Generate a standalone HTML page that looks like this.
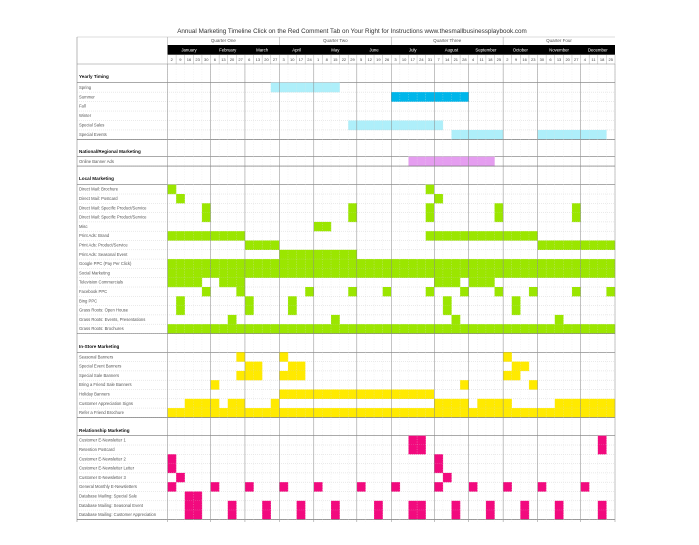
<!DOCTYPE html>
<html><head><meta charset="utf-8"><style>
body{margin:0;background:#fff;}
svg{display:block;font-family:"Liberation Sans",sans-serif;}
</style></head><body>
<svg id="c" width="699" height="545"></svg>
<script>
const months=["January","February","March","April","May","June","July","August","September","October","November","December"];
const monthWeeks=[5,4,4,4,5,4,5,4,4,4,5,4];
const quarters=["Quarter One","Quarter Two","Quarter Three","Quarter Four"];
const dayLabels=[2,9,16,23,30,6,13,20,27,6,13,20,27,3,10,17,24,1,8,15,22,29,5,12,19,26,3,10,17,24,31,7,14,21,28,4,11,18,25,2,9,16,23,30,6,13,20,27,4,11,18,25];
function R(a,b){const r=[];for(let i=a;i<=b;i++)r.push(i);return r;}
const yearlyNames=["Spring","Summer","Fall","Winter","Special Sales","Special Events"];
const yearlyWeeks=[R(12,19),R(26,34),[],[],R(21,31),R(33,38).concat(R(43,50))];
const yearlyColors=["#aeeffa","#00b6ea","#aeeffa","#aeeffa","#aeeffa","#aeeffa"];
const nationalNames=["Online Banner Ads"];
const nationalWeeks=[R(28,37)];
const localNames=["Direct Mail: Brochure","Direct Mail: Postcard","Direct Mail: Specific Product/Service","Direct Mail: Specific Product/Service","Misc","Print Ads: Brand","Print Ads: Product/Service","Print Ads: Seasonal Event","Google PPC (Pay Per Click)","Social Marketing","Television Commercials","Facebook PPC","Bing PPC","Grass Roots: Open House","Grass Roots: Events, Presentations","Grass Roots: Brochures"];
const localWeeks=[[0,30],[1,31],[4,21,30,38,47],[4,21,30,38,47],[17,18],R(0,8).concat(R(30,42)),R(9,12).concat(R(43,51)),R(13,21),R(0,51),R(0,51),R(0,3).concat(R(6,8),R(31,33),R(35,37)),[4,8,16,21,25,30,34,38,42,47,51],[1,9,14,32,40],[1,9,14,32,40],[7,19,33,45],R(0,51)];
const storeNames=["Seasonal Banners","Special Event Banners","Special Sale Banners","Bring a Friend Sale Banners","Holiday Banners","Customer Appreciation Signs","Refer a Friend Brochure"];
const storeWeeks=[[8,13,39],[9,10,14,15,40,41],[8,9,10,13,14,15,39,40],[5,34,42],R(13,30),R(2,5).concat([7,8,12],R(31,34),R(36,39),R(45,51)),R(0,51)];
const relNames=["Customer E-Newsletter 1","Retention Postcard","Customer E-Newsletter 2","Customer E-Newsletter Letter","Customer E-Newsletter 3","General Monthly E-Newsletters","Database Mailing: Special Sale","Database Mailing: Seasonal Event","Database Mailing: Customer Appreciation"];
const relWeeks=[[28,29,50],[28,29,50],[0,31],[0,31],[1,32],[0,5,9,13,17,22,26,31,35,39,43,48],[2,3],[2,3,7,11,15,19,24,28,29,33,37,41,45,50],[2,3,7,11,15,19,24,28,29,33,37,41,45,50]];

const svg=document.getElementById('c');const NS='http://www.w3.org/2000/svg';
function el(t,a,p){const e=document.createElementNS(NS,t);for(const k in a)e.setAttribute(k,a[k]);(p||svg).appendChild(e);return e;}
const X0=167.5,W=(615-167.5)/52,L=77,RGT=615;
const xw=i=>X0+i*W;
let t=el('text',{x:352,y:33,'font-size':6.3,fill:'#333','text-anchor':'middle'});
t.textContent="Annual Marketing Timeline   Click on the Red Comment Tab on Your Right for Instructions    www.thesmallbusinessplaybook.com";


el('rect',{x:X0,y:45,width:RGT-X0,height:9.7,fill:'#000'});
el('line',{x1:L,y1:37,x2:RGT,y2:37,stroke:'#bbb','stroke-width':0.5});
el('line',{x1:L,y1:37,x2:L,y2:522,stroke:'#888','stroke-width':0.6});
let wk=0;
const qStart=[0,13,26,39];
quarters.forEach((q,i)=>{const a=xw(qStart[i]),b=xw(i<3?qStart[i+1]:52);
 const e=el('text',{x:(a+b)/2,y:42,'font-size':4.5,fill:'#555','text-anchor':'middle'});e.textContent=q;
 
 
 el('line',{x1:a,y1:37,x2:a,y2:45,stroke:'#999','stroke-width':0.5});});
months.forEach((m,i)=>{const a=xw(wk),b=xw(wk+monthWeeks[i]);
 const e=el('text',{x:(a+b)/2,y:51.5,'font-size':4.3,fill:'#fff','text-anchor':'middle'});e.textContent=m;
 
 
 wk+=monthWeeks[i];});
dayLabels.forEach((d,i)=>{const e=el('text',{x:xw(i)+W/2,y:61,'font-size':4,fill:'#444','text-anchor':'middle'});e.textContent=d;
 
 });
const sections=[
 {title:"Yearly Timing",ly:78,top:82.7,h:9.45,names:yearlyNames,weeks:yearlyWeeks,color:yearlyColors},
 {title:"National/Regional Marketing",ly:153,top:156.7,h:9.4,names:nationalNames,weeks:nationalWeeks,color:"#e59df0"},
 {title:"Local Marketing",ly:180,top:184.7,h:9.3,names:localNames,weeks:localWeeks,color:"#9be600"},
 {title:"In-Store Marketing",ly:348,top:352.3,h:9.3,names:storeNames,weeks:storeWeeks,color:"#ffea00"},
 {title:"Relationship Marketing",ly:432,top:435.7,h:9.3,names:relNames,weeks:relWeeks,color:"#f20a7e"}];
sections.forEach(s=>{
 const e=el('text',{x:79,y:s.ly,'font-size':4.6,'font-weight':'bold',fill:'#111'});e.textContent=s.title;
 
 
 el('line',{x1:L,y1:s.top,x2:RGT,y2:s.top,stroke:'#777','stroke-width':0.6});
 s.names.forEach((n,r)=>{const y=s.top+r*s.h;
  const c=Array.isArray(s.color)?s.color[r]:s.color;
  s.weeks[r].forEach(w=>{const b=el('rect',{x:xw(w),y:y,width:W+0.2,height:s.h+0.2,fill:c});
   
   });
  const tx=el('text',{x:79,y:y+s.h*0.65,'font-size':4.2,fill:'#555'});tx.textContent=n;
  
  
  el('line',{x1:L,y1:y+s.h,x2:RGT,y2:y+s.h,stroke:'#ccc','stroke-width':0.4,'stroke-dasharray':'1,1'});});
 const end=s.top+s.names.length*s.h;
 el('line',{x1:L,y1:end,x2:RGT,y2:end,stroke:'#666','stroke-width':0.6});
});
for(let i=0;i<=52;i++){el('line',{x1:xw(i),y1:54.7,x2:xw(i),y2:64,stroke:'#999','stroke-width':0.4});
 el('line',{x1:xw(i),y1:64,x2:xw(i),y2:522,stroke:'#ddd','stroke-width':0.3,'stroke-dasharray':'1,1.5'});}
wk=0;
for(let i=0;i<=12;i++){el('line',{x1:xw(wk),y1:64,x2:xw(wk),y2:522,stroke:'#888','stroke-width':0.5});if(i<12)wk+=monthWeeks[i];}
el('line',{x1:L,y1:64,x2:RGT,y2:64,stroke:'#888','stroke-width':0.5});
</script>
</body></html>
